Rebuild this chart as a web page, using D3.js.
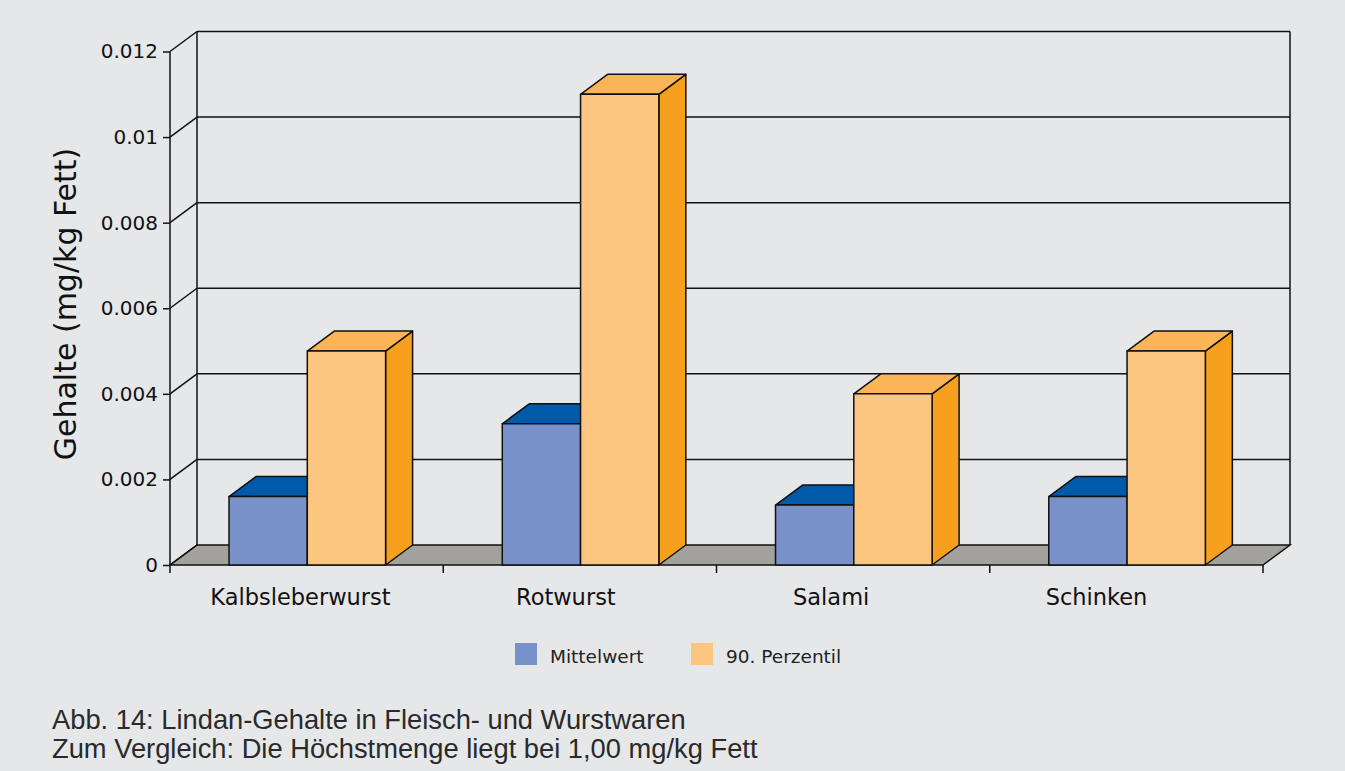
<!DOCTYPE html>
<html>
<head>
<meta charset="utf-8">
<script src="https://cdn.jsdelivr.net/npm/d3@7"></script>
<style>
  html, body { margin: 0; padding: 0; background: #e6e7e9; }
  svg { display: block; }
</style>
</head>
<body>
<svg id="chart" width="1345" height="771"></svg>
<script>
// Lindan-Gehalte (mg/kg Fett) je Warengruppe
const categories = ["Kalbsleberwurst", "Rotwurst", "Salami", "Schinken"];
const seriesNames = ["Mittelwert", "90. Perzentil"];
const mittelwert = [0.0016, 0.0033, 0.0014, 0.0016];
const perzentil90 = [0.005, 0.011, 0.004, 0.005];
const yTicks = [0, 0.002, 0.004, 0.006, 0.008, 0.01, 0.012];
const yTickLabels = ["0", "0.002", "0.004", "0.006", "0.008", "0.01", "0.012"];
const captionLines = [
  "Abb. 14: Lindan-Gehalte in Fleisch- und Wurstwaren",
  "Zum Vergleich: Die Höchstmenge liegt bei 1,00 mg/kg Fett"
];

const colors = {
  "Mittelwert": { front: "#7891c8", top: "#005aaa", side: "#1f4f96" },
  "90. Perzentil": { front: "#fdc680", top: "#fbb456", side: "#f7a01e" }
};

const svg = d3.select("#chart");
const font = "'DejaVu Sans', 'Liberation Sans', Arial, sans-serif";

// front plane of the 3D box
const left = 170, right = 1263;
const y = d3.scaleLinear().domain([0, 0.012]).range([565, 51.5]);
const depth = { dx: 27, dy: -20 };

const x0 = d3.scaleBand().domain(categories).range([left, right]);
const bw = x0.bandwidth();
const x1 = d3.scaleBand().domain(seriesNames).range([bw * 0.216, bw * 0.789]);
// category captions sit on their own, slightly tighter spacing
const xLabel = d3.scalePoint().domain(categories).range([300, 1096]);

const ink = "#111";

// floor
const y0 = y(0);
svg.append("path")
  .attr("d", `M${left},${y0} L${right},${y0} L${right + depth.dx},${y0 + depth.dy} L${left + depth.dx},${y0 + depth.dy} Z`)
  .attr("fill", "#a3a19e").attr("stroke", ink).attr("stroke-width", 1.5);

// back wall gridlines and side-wall connectors
const gridG = svg.append("g");
yTicks.forEach(t => {
  const yy = y(t);
  if (t > 0) {
    gridG.append("line")
      .attr("x1", left + depth.dx).attr("x2", right + depth.dx)
      .attr("y1", yy + depth.dy).attr("y2", yy + depth.dy)
      .attr("stroke", ink).attr("stroke-width", 1.5);
  }
  gridG.append("line")
    .attr("x1", left).attr("x2", left + depth.dx)
    .attr("y1", yy).attr("y2", yy + depth.dy)
    .attr("stroke", ink).attr("stroke-width", 1.5);
});
// back wall verticals
[left + depth.dx, right + depth.dx].forEach(xx => {
  gridG.append("line")
    .attr("x1", xx).attr("x2", xx)
    .attr("y1", y(0.012) + depth.dy).attr("y2", y(0) + depth.dy)
    .attr("stroke", ink).attr("stroke-width", 1.5);
});

// front y axis
const yAxis = d3.axisLeft(y).tickValues(yTicks)
  .tickFormat((d, i) => yTickLabels[i]).tickSize(7).tickPadding(5);
const yAxisG = svg.append("g").attr("transform", `translate(${left},0)`).call(yAxis);
yAxisG.select(".domain").attr("stroke", ink).attr("stroke-width", 1.5)
  .attr("d", `M0,${y(0.012)} V${y(0) + 8}`);
yAxisG.selectAll(".tick line").attr("stroke", ink).attr("stroke-width", 1.5);
yAxisG.selectAll(".tick text").attr("font-family", font).attr("font-size", 20).attr("fill", "#111");

// category axis along the front edge
const xAxis = d3.axisBottom(xLabel).tickSize(0);
const xAxisG = svg.append("g").attr("transform", `translate(0,${y0})`).call(xAxis);
xAxisG.select(".domain").remove();
xAxisG.selectAll(".tick text").attr("font-family", font).attr("font-size", 22.5).attr("fill", "#111")
  .attr("y", 40).attr("dy", 0);
categories.forEach(c => {
  const xx = x0(c) + bw;
  svg.append("line").attr("x1", xx).attr("x2", xx).attr("y1", y0).attr("y2", y0 + 8)
    .attr("stroke", ink).attr("stroke-width", 1.5);
});

// 3D bars
const rows = [];
categories.forEach((c, i) => {
  rows.push({ cat: c, series: "Mittelwert", value: mittelwert[i] });
  rows.push({ cat: c, series: "90. Perzentil", value: perzentil90[i] });
});
const barG = svg.append("g");
rows.forEach(r => {
  const xa = x0(r.cat) + x1(r.series);
  const xb = xa + x1.bandwidth();
  const yt = y(r.value);
  const c = colors[r.series];
  const { dx, dy } = depth;
  const g = barG.append("g").attr("stroke", ink).attr("stroke-width", 1.5).attr("stroke-linejoin", "round");
  g.append("path").attr("fill", c.side)
    .attr("d", `M${xb},${y0} L${xb + dx},${y0 + dy} L${xb + dx},${yt + dy} L${xb},${yt} Z`);
  g.append("path").attr("fill", c.top)
    .attr("d", `M${xa},${yt} L${xa + dx},${yt + dy} L${xb + dx},${yt + dy} L${xb},${yt} Z`);
  g.append("rect").attr("fill", c.front)
    .attr("x", xa).attr("y", yt).attr("width", xb - xa).attr("height", y0 - yt);
});

// y axis title
svg.append("text")
  .attr("transform", `translate(76,${304}) rotate(-90)`)
  .attr("text-anchor", "middle")
  .attr("font-family", font).attr("font-size", 30).attr("fill", "#111")
  .text("Gehalte (mg/kg Fett)");

// legend
const legend = svg.append("g");
const legendPos = [515, 691];
seriesNames.forEach((s, i) => {
  legend.append("rect").attr("x", legendPos[i]).attr("y", 643).attr("width", 22).attr("height", 22)
    .attr("fill", colors[s].front);
  legend.append("text").attr("x", legendPos[i] + 35).attr("y", 663)
    .attr("font-family", font).attr("font-size", 18.5).attr("fill", "#222").text(s);
});

// caption
svg.selectAll(".caption").data(captionLines).join("text")
  .attr("class", "caption")
  .attr("x", 52).attr("y", (d, i) => 729 + i * 29)
  .attr("font-family", "'Liberation Sans', Arial, sans-serif")
  .attr("font-size", 27.3).attr("fill", "#2a2a2a")
  .text(d => d);
</script>
</body>
</html>
